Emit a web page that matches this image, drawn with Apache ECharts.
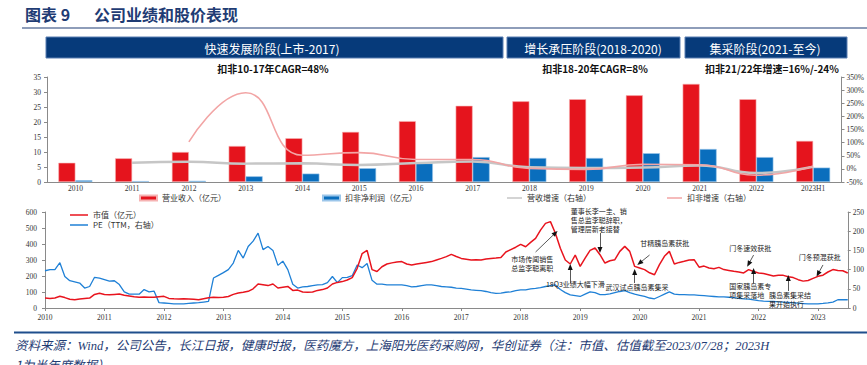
<!DOCTYPE html>
<html><head><meta charset="utf-8">
<script src="https://cdn.jsdelivr.net/npm/echarts@6/dist/echarts.min.js"></script>
<style>html,body{margin:0;padding:0;background:#fff}#c{width:867px;height:365px}</style>
</head><body><div id="c"></div>
<script>
// ---------- Top chart data ----------
const categories = ['2010','2011','2012','2013','2014','2015','2016','2017','2018','2019','2020','2021','2022','2023H1'];
const revenue = [6.4, 7.9, 10.0, 12.0, 14.6, 16.7, 20.3, 25.4, 26.9, 27.6, 28.9, 32.7, 27.6, 13.7];
const profit  = [0.6, 0.3, 0.4, 1.9, 2.8, 4.6, 6.2, 8.3, 8.0, 8.0, 9.6, 11.0, 8.3, 4.8];
const revenueGrowth = [null, 23, 27, 20, 21, 15, 22, 28, 6, 3, 5, 13, -16, 8];
const profitGrowth  = [null, null, 103, 290, 52, 62, 36, 36, 2, -2, 17, 16, -24, 10];
const leftTicks = {min:0, max:35, interval:5};
const rightTicks = {min:-50, max:350, interval:50};

// ---------- Bottom chart data (monthly, 2010-01 .. 2023-07) ----------
const mcap = [
  62,60,63,73,65,55,52,56,60,62,85,92,
  85,83,85,87,80,75,70,67,68,67,67,70,
  73,60,58,57,58,56,54,52,58,64,67,66,
  67,72,85,94,98,104,120,150,145,140,150,125,
  130,135,110,112,100,98,100,110,115,125,150,160,
  165,175,190,248,340,360,240,228,258,275,282,288,
  290,275,269,275,280,285,290,300,310,321,335,322,
  310,305,300,302,300,306,310,312,315,350,365,380,
  398,383,410,435,487,529,540,467,373,300,275,331,
  260,312,360,375,333,281,295,302,354,385,354,260,
  250,240,220,208,271,323,354,275,285,292,300,302,
  255,262,250,245,254,240,235,229,225,219,240,228,
  219,215,208,200,205,204,195,190,177,168,172,185,
  198,205,225,240,235,233,219
];
const pe = [
  97,100,100,118,82,71,68,65,52,56,80,78,
  74,70,71,61,42,36,36,36,48,42,44,14,
  13,12,11,10.5,11,12,13,14,15.5,17,78,85,
  92,100,117,150,130,160,174,195,152,160,150,111,
  122,100,62,52,55,56,58,60,61,66,82,66,
  79,80,84,112,105,116,72,62,62,60,60,60,
  60,58,55,56,58,60,60,58,56,55,54,52,
  51,49,47,46,45,43,40,38,39,41,42,45,
  47,47,50,51,53,56,58,60,48,40,34,32,
  30,36,42,40,35,35,37,40,43,45,40,36,
  33,30,26,24,30,36,42,36,35,35,34,34,
  33,32,31,30,29,29,28,27,25,24,23,21,
  19,18,17.5,17,16,15.5,14.5,13.5,12.5,11.5,10.5,10.5,
  11,12,13.5,15.5,21.5,22,21.5
];
const startYear = 2010;
const months = [];
for (let i = 0; i < mcap.length; i++) {
  const y = startYear + Math.floor(i / 12), m = i % 12 + 1;
  months.push(y + '-' + (m < 10 ? '0' + m : m));
}

// Annotations (month, market-cap value)
const notes = [
  {text:'市场传闻销售\n总监李聪离职', at:['2017-11', 278], from:['2018-04', 350], to:['2018-08', 469]},
  {text:'董事长李一圭、销\n售总监李聪辞职，\n管理层新老接替', at:['2018-11', 547], from:['2019-05', 469], to:['2019-05', 362], big:true},
  {text:'18Q3业绩大幅下滑', at:['2018-06', 150], from:['2018-11', 156], to:['2018-11', 256]},
  {text:'甘精胰岛素获批', at:['2020-01', 406], from:['2020-03', 331], to:['2020-01', 281]},
  {text:'武汉试点胰岛素集采', at:['2019-06', 134], from:['2019-12', 156], to:['2019-12', 225]},
  {text:'门冬速效获批', at:['2021-07', 375], from:['2021-12', 331], to:['2021-11', 275]},
  {text:'国家胰岛素专\n项集采落地', at:['2021-07', 109], from:['2021-12', 156], to:['2021-12', 231]},
  {text:'胰岛素集采结\n果开始执行', at:['2022-03', 53], from:['2022-07', 106], to:['2022-07', 188]},
  {text:'门冬预混获批', at:['2022-09', 319], from:['2023-02', 269], to:['2023-01', 213]}
];

const CJK = '"Noto Sans CJK SC", sans-serif';
const SERIF = '"Liberation Serif", "DejaVu Serif", serif';
const axisColor = '#8a8a8a';

const chart = echarts.init(document.getElementById('c'), null, {renderer:'svg'});

function legendItem(name, left, top, w, h) {
  return {data:[name], left:left, top:top, itemWidth:w, itemHeight:h, icon:'rect', padding:0,
    selectedMode:false, textStyle:{fontSize:8, fontFamily:CJK, color:'#333'}};
}

const option = {
  animation:false,
  backgroundColor:'#fff',
  grid:[
    {left:47, top:77, width:799, height:105},
    {left:45, top:212, width:804, height:96}
  ],
  legend:[
    legendItem('营业收入（亿元）', 139, 194, 17, 5),
    legendItem('扣非净利润（亿元）', 322, 194, 17, 5),
    legendItem('营收增速（右轴）', 507, 194, 15, 1.5),
    legendItem('扣非增速（右轴）', 667, 194, 15, 1.5),
    legendItem('市值（亿元）', 70, 211, 18, 1.5),
    legendItem('PE（TTM，右轴）', 70, 221, 18, 1.5)
  ],
  xAxis:[
    {type:'category', gridIndex:0, data:categories, boundaryGap:true,
      axisLine:{lineStyle:{color:axisColor}},
      axisTick:{interval:0, length:3, lineStyle:{color:axisColor}},
      axisLabel:{interval:0, fontSize:7.5, fontFamily:SERIF, color:'#333', margin:2}},
    {type:'category', gridIndex:1, data:months, boundaryGap:false,
      axisLine:{lineStyle:{color:axisColor}},
      axisTick:{interval:(i, v) => v.endsWith('-01'), length:3, lineStyle:{color:axisColor}},
      axisLabel:{interval:(i, v) => v.endsWith('-01'), formatter:v => v.slice(0, 4),
        fontSize:7.5, fontFamily:SERIF, color:'#333', margin:5}}
  ],
  yAxis:[
    {type:'value', gridIndex:0, min:leftTicks.min, max:leftTicks.max, interval:leftTicks.interval,
      splitLine:{show:false}, axisLine:{show:true, lineStyle:{color:axisColor}},
      axisTick:{show:true, length:3, lineStyle:{color:axisColor}},
      axisLabel:{fontSize:7.5, fontFamily:SERIF, color:'#333', margin:6}},
    {type:'value', gridIndex:0, position:'right', min:rightTicks.min, max:rightTicks.max, interval:rightTicks.interval,
      splitLine:{show:false}, axisLine:{show:true, lineStyle:{color:axisColor}},
      axisTick:{show:true, length:3, lineStyle:{color:axisColor}},
      axisLabel:{formatter:'{value}%', fontSize:7.5, fontFamily:SERIF, color:'#333', margin:5}},
    {type:'value', gridIndex:1, min:0, max:600, interval:100,
      splitLine:{show:false}, axisLine:{show:true, lineStyle:{color:axisColor}},
      axisTick:{show:true, length:3, lineStyle:{color:axisColor}},
      axisLabel:{fontSize:7.5, fontFamily:SERIF, color:'#333', margin:8}},
    {type:'value', gridIndex:1, position:'right', min:0, max:250, interval:50,
      splitLine:{show:false}, axisLine:{show:true, lineStyle:{color:axisColor}},
      axisTick:{show:true, length:3, lineStyle:{color:axisColor}},
      axisLabel:{fontSize:7.5, fontFamily:SERIF, color:'#333', margin:5}}
  ],
  series:[
    {name:'营业收入（亿元）', type:'bar', xAxisIndex:0, yAxisIndex:0, data:revenue,
      barWidth:17, barGap:'0%', itemStyle:{color:'#e5141d', borderColor:'#f6b3b3', borderWidth:0.6}},
    {name:'扣非净利润（亿元）', type:'bar', xAxisIndex:0, yAxisIndex:0, data:profit,
      barWidth:17, barGap:'0%', itemStyle:{color:'#0a6ebd', borderColor:'#9cc6ea', borderWidth:0.6}},
    {name:'营收增速（右轴）', type:'line', xAxisIndex:0, yAxisIndex:1, data:revenueGrowth,
      smooth:true, symbol:'none', connectNulls:false, color:'#c6c6c6', lineStyle:{color:'#c6c6c6', width:2.5}},
    {name:'扣非增速（右轴）', type:'line', xAxisIndex:0, yAxisIndex:1, data:profitGrowth,
      smooth:true, symbol:'none', color:'#f2a5a5', lineStyle:{color:'#f2a5a5', width:1.6}},
    {name:'PE（TTM，右轴）', type:'line', xAxisIndex:1, yAxisIndex:3, data:pe,
      symbol:'none', color:'#1f80d6', lineStyle:{color:'#1f80d6', width:1.3}},
    {name:'市值（亿元）', type:'line', xAxisIndex:1, yAxisIndex:2, data:mcap,
      symbol:'none', color:'#e8141e', lineStyle:{color:'#e8141e', width:1.5},
      markLine:{silent:true, symbol:['none','triangle'], symbolSize:[5,6], animation:false,
        label:{show:false}, emphasis:{disabled:true},
        lineStyle:{color:'#111', width:0.7, type:'solid'},
        data:notes.map(n => [{coord:n.from}, {coord:n.to}])},
      markPoint:{silent:true, symbol:'circle', symbolSize:1, animation:false,
        itemStyle:{color:'rgba(0,0,0,0)'},
        data:notes.map(n => ({coord:n.at, value:0,
          label:{show:true, position:'right', distance:0, formatter:n.text, align:'left',
            fontSize:7, lineHeight:n.big ? 9 : 8.5, fontFamily:CJK, color:'#222'}}))}
    }
  ],
  graphic:[
    {type:'text', x:25, y:14, style:{text:'图表 9', font:'bold 16px ' + CJK, fill:'#1f3c74', verticalAlign:'middle'}},
    {type:'text', x:94, y:14, style:{text:'公司业绩和股价表现', font:'bold 16px ' + CJK, fill:'#1f3c74', verticalAlign:'middle'}},
    {type:'line', shape:{x1:22, y1:28, x2:867, y2:28}, style:{stroke:'#1f3c74', lineWidth:1.2}},
    {type:'rect', shape:{x:46, y:37, width:457, height:21}, style:{fill:'#063a7a', stroke:'#5a7eb2', lineWidth:1}},
    {type:'rect', shape:{x:507, y:37, width:173, height:21}, style:{fill:'#063a7a', stroke:'#5a7eb2', lineWidth:1}},
    {type:'rect', shape:{x:685, y:37, width:162, height:21}, style:{fill:'#063a7a', stroke:'#5a7eb2', lineWidth:1}},
    {type:'text', x:272, y:48, style:{text:'快速发展阶段(上市-2017)', font:'12px ' + CJK, fill:'#fff', align:'center', verticalAlign:'middle'}},
    {type:'text', x:593, y:48, style:{text:'增长承压阶段(2018-2020)', font:'12px ' + CJK, fill:'#fff', align:'center', verticalAlign:'middle'}},
    {type:'text', x:765, y:48, style:{text:'集采阶段(2021-至今)', font:'12px ' + CJK, fill:'#fff', align:'center', verticalAlign:'middle'}},
    {type:'text', x:273, y:68, style:{text:'扣非10-17年CAGR=48%', font:'bold 10px ' + CJK, fill:'#111', align:'center', verticalAlign:'middle'}},
    {type:'text', x:595, y:68, style:{text:'扣非18-20年CAGR=8%', font:'bold 10px ' + CJK, fill:'#111', align:'center', verticalAlign:'middle'}},
    {type:'text', x:772, y:68, style:{text:'扣非21/22年增速=16%/-24%', font:'bold 10px ' + CJK, fill:'#111', align:'center', verticalAlign:'middle'}},
    {type:'line', shape:{x1:14, y1:332.5, x2:867, y2:332.5}, style:{stroke:'#1f4e8c', lineWidth:2}},
    {type:'text', x:15, y:346, style:{text:'资料来源：Wind，公司公告，长江日报，健康时报，医药魔方，上海阳光医药采购网，华创证券（注：市值、估值截至2023/07/28；2023H',
      font:'italic 12.5px ' + SERIF.replace('serif', '"Noto Sans CJK SC", serif'), fill:'#1f3c74', verticalAlign:'middle'}},
    {type:'text', x:15, y:364, style:{text:'1为半年度数据）', font:'italic 12.5px ' + CJK, fill:'#1f3c74', verticalAlign:'middle'}}
  ]
};
chart.setOption(option);
</script>
</body></html>
